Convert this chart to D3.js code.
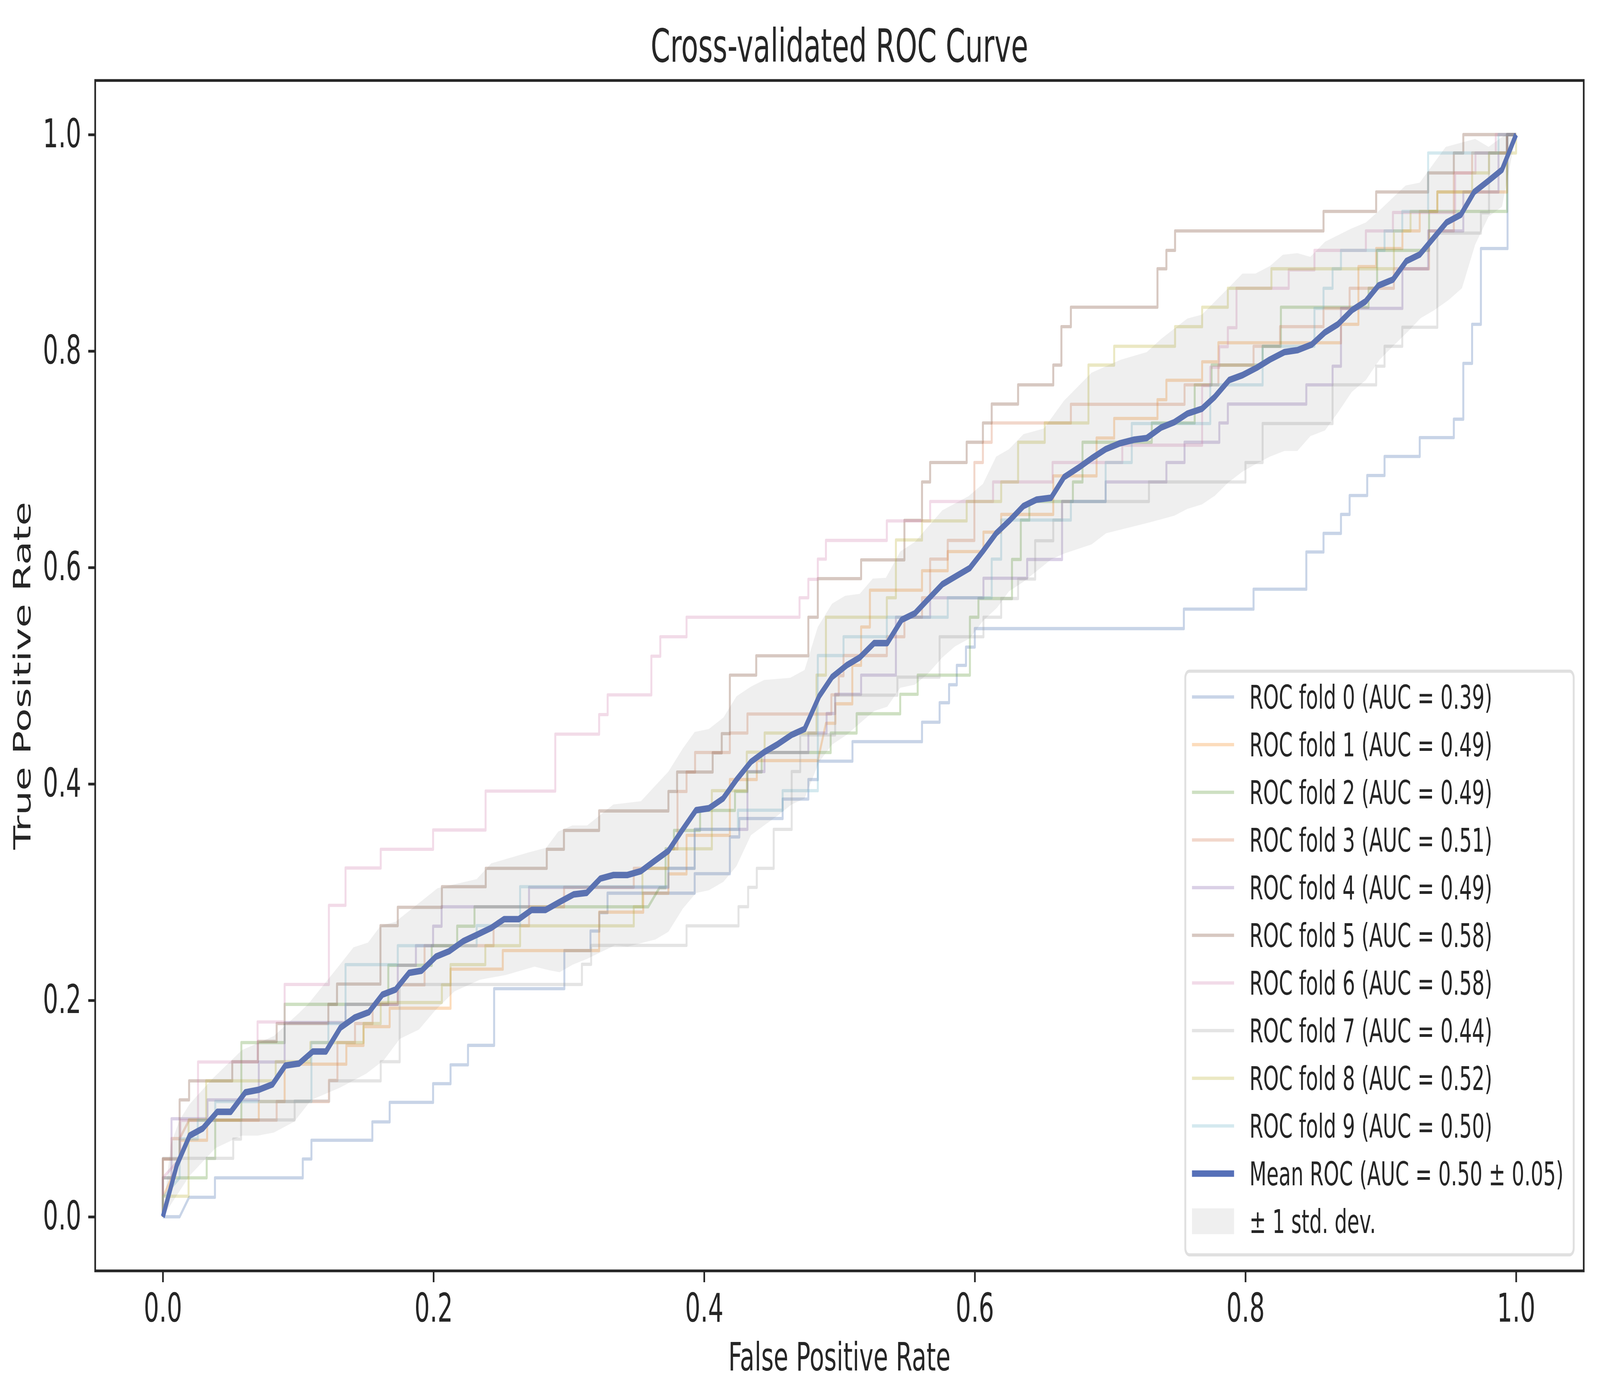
<!DOCTYPE html>
<html>
<head>
<meta charset="utf-8">
<script src="https://cdn.jsdelivr.net/npm/d3@7"></script>
<style>
  html, body { margin: 0; padding: 0; background: #ffffff; overflow: hidden; }
  #chart svg { display: block; width: 100vw; height: 100vh; }
  text { font-family: 'DejaVu Sans', sans-serif; fill: #262626; }
</style>
</head>
<body>
<div id="chart"></div>
<script>
// ROC curve of every fold, [false positive rate, true positive rate]
const fold0 = [[0,0],[0.0124,0],[0.0194,0.018],[0.0385,0.018],[0.0385,0.036],[0.1034,0.036],[0.1034,0.0534],[0.1098,0.0534],[0.1098,0.0707],[0.1548,0.0707],[0.1548,0.0877],[0.1676,0.0877],[0.1676,0.1057],[0.1997,0.1057],[0.1997,0.123],[0.2126,0.123],[0.2126,0.1404],[0.2255,0.1404],[0.2255,0.1584],[0.2448,0.1584],[0.2448,0.2108],[0.2967,0.2108],[0.2967,0.246],[0.316,0.246],[0.316,0.264],[0.3226,0.264],[0.3226,0.281],[0.3286,0.281],[0.3286,0.299],[0.393,0.299],[0.393,0.317],[0.419,0.317],[0.419,0.351],[0.426,0.351],[0.426,0.368],[0.458,0.368],[0.458,0.386],[0.477,0.386],[0.477,0.404],[0.484,0.404],[0.484,0.421],[0.5096,0.421],[0.5096,0.439],[0.561,0.439],[0.561,0.457],[0.574,0.457],[0.574,0.475],[0.581,0.475],[0.581,0.4916],[0.5867,0.4916],[0.5867,0.5095],[0.5935,0.5095],[0.5935,0.5264],[0.6,0.5264],[0.6,0.5435],[0.7545,0.5435],[0.7545,0.5615],[0.806,0.5615],[0.806,0.5799],[0.845,0.5799],[0.845,0.6143],[0.8577,0.6143],[0.8577,0.6315],[0.8706,0.6315],[0.8706,0.649],[0.877,0.649],[0.877,0.6665],[0.89,0.6665],[0.89,0.685],[0.9028,0.685],[0.9028,0.7026],[0.9288,0.7026],[0.9288,0.72],[0.954,0.72],[0.954,0.737],[0.961,0.737],[0.961,0.7886],[0.9675,0.7886],[0.9675,0.8247],[0.974,0.8247],[0.974,0.8947],[0.9937,0.8947],[0.9937,1],[1,1]];
const fold1 = [[0,0],[0,0.018],[0.0064,0.036],[0.0124,0.0536],[0.0124,0.0707],[0.0327,0.0707],[0.0327,0.0893],[0.0709,0.0893],[0.0709,0.1065],[0.09,0.1065],[0.09,0.141],[0.1356,0.141],[0.1356,0.1584],[0.1483,0.1584],[0.1483,0.1757],[0.1676,0.1757],[0.1676,0.1927],[0.2126,0.1927],[0.2126,0.2288],[0.2512,0.2288],[0.2512,0.246],[0.3224,0.246],[0.3224,0.2815],[0.355,0.2815],[0.355,0.299],[0.3736,0.299],[0.3736,0.3168],[0.387,0.3168],[0.387,0.3525],[0.419,0.3525],[0.419,0.404],[0.4389,0.404],[0.4389,0.4215],[0.484,0.4215],[0.49,0.456],[0.497,0.456],[0.497,0.474],[0.5095,0.474],[0.5095,0.5096],[0.516,0.5096],[0.516,0.545],[0.5225,0.545],[0.5225,0.579],[0.561,0.579],[0.561,0.597],[0.58,0.597],[0.58,0.6147],[0.6064,0.6147],[0.6064,0.6326],[0.6195,0.6326],[0.6195,0.649],[0.658,0.649],[0.658,0.6846],[0.69,0.6846],[0.69,0.7196],[0.703,0.7196],[0.703,0.7377],[0.735,0.7377],[0.735,0.755],[0.7416,0.755],[0.7416,0.773],[0.768,0.773],[0.768,0.79],[0.78,0.79],[0.78,0.8076],[0.8706,0.8076],[0.8706,0.8247],[0.8835,0.8247],[0.8835,0.878],[0.8966,0.878],[0.8966,0.8947],[0.916,0.8947],[0.916,0.911],[0.9288,0.911],[0.9288,0.929],[0.9418,0.929],[0.9418,0.947],[0.9933,0.947],[0.9933,1],[1,1]];
const fold2 = [[0,0],[0,0.036],[0.0324,0.036],[0.0324,0.0539],[0.0387,0.0539],[0.0387,0.0893],[0.058,0.0893],[0.058,0.161],[0.09,0.161],[0.09,0.1963],[0.1666,0.1963],[0.1666,0.2324],[0.1987,0.2324],[0.1987,0.2505],[0.2175,0.2505],[0.2175,0.2685],[0.2303,0.2685],[0.2303,0.2864],[0.3587,0.2864],[0.367,0.304],[0.3715,0.304],[0.3715,0.34],[0.3777,0.34],[0.3777,0.357],[0.397,0.357],[0.397,0.3755],[0.4228,0.3755],[0.4228,0.393],[0.432,0.393],[0.432,0.411],[0.4425,0.411],[0.4425,0.429],[0.4935,0.429],[0.4935,0.447],[0.5127,0.447],[0.5127,0.4648],[0.5449,0.4648],[0.5449,0.4828],[0.5578,0.4828],[0.5578,0.5005],[0.5964,0.5005],[0.5964,0.554],[0.6027,0.554],[0.6027,0.5713],[0.6275,0.5713],[0.6275,0.6074],[0.634,0.6074],[0.634,0.6438],[0.6403,0.6438],[0.6403,0.661],[0.6725,0.661],[0.6725,0.679],[0.6796,0.679],[0.6796,0.7157],[0.7308,0.7157],[0.7308,0.7335],[0.7625,0.7335],[0.7625,0.7687],[0.775,0.7687],[0.775,0.787],[0.8127,0.787],[0.8127,0.8044],[0.8262,0.8044],[0.8262,0.8405],[0.891,0.8405],[0.891,0.858],[0.8973,0.858],[0.8973,0.893],[0.9357,0.893],[0.9357,0.929],[0.9933,0.929],[0.9933,1],[1,1]];
const fold3 = [[0,0],[0,0.0534],[0.0064,0.0534],[0.0064,0.0722],[0.0124,0.0722],[0.0194,0.0893],[0.0841,0.0893],[0.0841,0.1065],[0.1227,0.1065],[0.1227,0.126],[0.129,0.126],[0.129,0.161],[0.142,0.161],[0.142,0.1786],[0.155,0.1786],[0.155,0.1963],[0.1736,0.1963],[0.1736,0.2143],[0.1934,0.2143],[0.1934,0.2505],[0.2444,0.2505],[0.2444,0.269],[0.2706,0.269],[0.2706,0.2864],[0.2965,0.2864],[0.2965,0.3045],[0.348,0.3045],[0.348,0.322],[0.3736,0.322],[0.3736,0.34],[0.3803,0.34],[0.3803,0.393],[0.387,0.393],[0.387,0.411],[0.3933,0.411],[0.3933,0.429],[0.419,0.429],[0.419,0.447],[0.432,0.447],[0.432,0.4646],[0.494,0.4646],[0.494,0.4823],[0.4995,0.4823],[0.4995,0.5],[0.503,0.5],[0.503,0.5186],[0.535,0.5186],[0.535,0.536],[0.548,0.536],[0.548,0.554],[0.561,0.554],[0.561,0.572],[0.567,0.572],[0.567,0.6077],[0.58,0.6077],[0.58,0.625],[0.5997,0.625],[0.5997,0.697],[0.606,0.697],[0.606,0.7157],[0.6125,0.7157],[0.6125,0.7335],[0.671,0.7335],[0.671,0.7508],[0.755,0.7508],[0.755,0.7687],[0.78,0.7687],[0.78,0.787],[0.806,0.787],[0.806,0.8044],[0.8256,0.8044],[0.8256,0.8225],[0.8577,0.8225],[0.8577,0.8394],[0.877,0.8394],[0.877,0.858],[0.9097,0.858],[0.9097,0.876],[0.9357,0.876],[0.9357,0.911],[0.954,0.911],[0.954,0.9646],[0.9675,0.9646],[0.9675,0.983],[0.9933,0.983],[0.9933,1],[1,1]];
const fold4 = [[0,0],[0,0.036],[0.0064,0.036],[0.0064,0.0906],[0.033,0.0906],[0.033,0.108],[0.0709,0.108],[0.0709,0.143],[0.09,0.143],[0.09,0.1795],[0.135,0.1795],[0.135,0.1963],[0.1736,0.1963],[0.1736,0.2324],[0.187,0.2324],[0.187,0.2505],[0.1997,0.2505],[0.1997,0.2685],[0.206,0.2685],[0.206,0.2864],[0.2706,0.2864],[0.2706,0.3044],[0.3736,0.3044],[0.3736,0.322],[0.393,0.322],[0.393,0.358],[0.432,0.358],[0.432,0.4114],[0.4446,0.4114],[0.4446,0.429],[0.477,0.429],[0.477,0.447],[0.4905,0.447],[0.4905,0.465],[0.4968,0.465],[0.4968,0.4828],[0.516,0.4828],[0.516,0.5005],[0.5417,0.5005],[0.5417,0.554],[0.567,0.554],[0.567,0.572],[0.6064,0.572],[0.6064,0.59],[0.6387,0.59],[0.6387,0.6074],[0.6645,0.6074],[0.6645,0.661],[0.6967,0.661],[0.6967,0.679],[0.7416,0.679],[0.7416,0.697],[0.755,0.697],[0.755,0.7157],[0.7807,0.7157],[0.7807,0.7335],[0.787,0.7335],[0.787,0.751],[0.845,0.751],[0.845,0.7687],[0.8644,0.7687],[0.8644,0.786],[0.8706,0.786],[0.8706,0.8394],[0.916,0.8394],[0.916,0.876],[0.935,0.876],[0.935,0.911],[0.961,0.911],[0.961,0.947],[0.987,0.947],[0.987,0.983],[0.9933,0.983],[0.9933,1],[1,1]];
const fold5 = [[0,0],[0,0.0534],[0.0124,0.0534],[0.0124,0.108],[0.0194,0.108],[0.0194,0.1256],[0.0513,0.1256],[0.0513,0.1433],[0.0703,0.1433],[0.0703,0.162],[0.0841,0.162],[0.0841,0.1786],[0.1223,0.1786],[0.1223,0.1963],[0.1287,0.1963],[0.1287,0.215],[0.1608,0.215],[0.1608,0.269],[0.1736,0.269],[0.1736,0.286],[0.2062,0.286],[0.2062,0.305],[0.2386,0.305],[0.2386,0.322],[0.2837,0.322],[0.2837,0.3396],[0.2964,0.3396],[0.2964,0.357],[0.3224,0.357],[0.3224,0.375],[0.3736,0.375],[0.3736,0.393],[0.38,0.393],[0.38,0.411],[0.4063,0.411],[0.4063,0.4287],[0.413,0.4287],[0.413,0.4464],[0.419,0.4464],[0.419,0.5005],[0.4385,0.5005],[0.4385,0.5184],[0.477,0.5184],[0.477,0.554],[0.484,0.554],[0.484,0.5897],[0.516,0.5897],[0.516,0.607],[0.548,0.607],[0.548,0.6435],[0.561,0.6435],[0.561,0.679],[0.567,0.679],[0.567,0.697],[0.594,0.697],[0.594,0.7157],[0.606,0.7157],[0.606,0.7335],[0.6125,0.7335],[0.6125,0.751],[0.632,0.751],[0.632,0.7687],[0.658,0.7687],[0.658,0.787],[0.664,0.787],[0.664,0.8225],[0.671,0.8225],[0.671,0.8405],[0.735,0.8405],[0.735,0.876],[0.7416,0.876],[0.7416,0.893],[0.748,0.893],[0.748,0.911],[0.8577,0.911],[0.8577,0.929],[0.8966,0.929],[0.8966,0.947],[0.935,0.947],[0.935,0.9646],[0.954,0.9646],[0.954,0.983],[0.961,0.983],[0.961,1],[1,1]];
const fold6 = [[0,0],[0,0.036],[0.013,0.054],[0.013,0.089],[0.026,0.089],[0.026,0.143],[0.07,0.143],[0.07,0.18],[0.09,0.18],[0.09,0.2147],[0.1227,0.2147],[0.1227,0.2878],[0.135,0.2878],[0.135,0.3223],[0.161,0.3223],[0.161,0.3396],[0.1997,0.3396],[0.1997,0.3574],[0.2385,0.3574],[0.2385,0.3934],[0.29,0.3934],[0.29,0.446],[0.3224,0.446],[0.3224,0.464],[0.3287,0.464],[0.3287,0.4823],[0.361,0.4823],[0.361,0.518],[0.3676,0.518],[0.3676,0.536],[0.387,0.536],[0.387,0.554],[0.4705,0.554],[0.4705,0.572],[0.477,0.572],[0.477,0.589],[0.484,0.589],[0.484,0.6077],[0.49,0.6077],[0.49,0.625],[0.535,0.625],[0.535,0.643],[0.567,0.643],[0.567,0.661],[0.6135,0.661],[0.6135,0.679],[0.6575,0.679],[0.6575,0.697],[0.709,0.697],[0.709,0.713],[0.768,0.713],[0.768,0.768],[0.774,0.768],[0.774,0.785],[0.7807,0.785],[0.7807,0.804],[0.787,0.804],[0.787,0.8215],[0.7934,0.8215],[0.7934,0.858],[0.832,0.858],[0.832,0.875],[0.851,0.875],[0.851,0.893],[0.889,0.893],[0.889,0.911],[0.909,0.911],[0.909,0.928],[0.955,0.928],[0.955,0.9646],[0.97,0.9646],[0.97,0.983],[0.985,0.983],[0.985,1],[1,1]];
const fold7 = [[0,0],[0,0.054],[0.052,0.054],[0.052,0.0718],[0.0578,0.0718],[0.0578,0.0895],[0.0974,0.0895],[0.0974,0.107],[0.123,0.107],[0.123,0.1256],[0.161,0.1256],[0.161,0.1433],[0.175,0.1433],[0.175,0.2147],[0.3097,0.2147],[0.3097,0.2333],[0.3165,0.2333],[0.3165,0.2508],[0.387,0.2508],[0.387,0.2688],[0.4254,0.2688],[0.4254,0.2865],[0.4325,0.2865],[0.4325,0.3044],[0.4389,0.3044],[0.4389,0.322],[0.4514,0.322],[0.4514,0.358],[0.4647,0.358],[0.4647,0.4114],[0.471,0.4114],[0.471,0.4453],[0.4968,0.4453],[0.4968,0.482],[0.5428,0.482],[0.5428,0.4987],[0.574,0.4987],[0.574,0.536],[0.6064,0.536],[0.6064,0.554],[0.6195,0.554],[0.6195,0.5713],[0.632,0.5713],[0.632,0.5893],[0.6446,0.5893],[0.6446,0.6247],[0.658,0.6247],[0.658,0.6438],[0.6645,0.6438],[0.6645,0.661],[0.7287,0.661],[0.7287,0.679],[0.8,0.679],[0.8,0.697],[0.8127,0.697],[0.8127,0.733],[0.8644,0.733],[0.8644,0.7687],[0.8966,0.7687],[0.8966,0.786],[0.9028,0.786],[0.9028,0.8044],[0.9159,0.8044],[0.9159,0.822],[0.9418,0.822],[0.9418,0.909],[0.974,0.909],[0.974,0.9278],[0.98,0.9278],[0.98,0.983],[0.993,0.983],[0.993,1],[1,1]];
const fold8 = [[0,0],[0,0.019],[0.019,0.019],[0.019,0.0895],[0.032,0.0895],[0.032,0.1256],[0.0834,0.1256],[0.0834,0.1433],[0.109,0.1433],[0.109,0.161],[0.1483,0.161],[0.1483,0.1786],[0.161,0.1786],[0.161,0.198],[0.2062,0.198],[0.2062,0.2143],[0.2126,0.2143],[0.2126,0.233],[0.2383,0.233],[0.2383,0.2505],[0.264,0.2505],[0.264,0.2688],[0.348,0.2688],[0.348,0.2865],[0.3544,0.2865],[0.3544,0.322],[0.3736,0.322],[0.3736,0.34],[0.4057,0.34],[0.4057,0.3937],[0.4315,0.3937],[0.4315,0.4293],[0.4447,0.4293],[0.4447,0.447],[0.483,0.447],[0.483,0.5005],[0.49,0.5005],[0.49,0.554],[0.535,0.554],[0.535,0.572],[0.5417,0.572],[0.5417,0.6254],[0.561,0.6254],[0.561,0.643],[0.594,0.643],[0.594,0.661],[0.6195,0.661],[0.6195,0.679],[0.632,0.679],[0.632,0.7157],[0.6517,0.7157],[0.6517,0.7335],[0.684,0.7335],[0.684,0.787],[0.703,0.787],[0.703,0.8044],[0.748,0.8044],[0.748,0.8225],[0.768,0.8225],[0.768,0.8405],[0.787,0.8405],[0.787,0.858],[0.8192,0.858],[0.8192,0.876],[0.9097,0.876],[0.9097,0.911],[0.922,0.911],[0.922,0.929],[0.9418,0.929],[0.9418,0.947],[0.9675,0.947],[0.9675,0.9646],[0.98,0.9646],[0.98,0.983],[1,0.983],[1,1]];
const fold9 = [[0,0],[0,0.018],[0.0124,0.036],[0.0124,0.072],[0.0258,0.072],[0.0258,0.089],[0.0387,0.089],[0.0387,0.1065],[0.1098,0.1065],[0.1098,0.161],[0.1223,0.161],[0.1223,0.1786],[0.135,0.1786],[0.135,0.233],[0.1736,0.233],[0.1736,0.2505],[0.2319,0.2505],[0.2319,0.269],[0.264,0.269],[0.264,0.305],[0.3736,0.305],[0.3736,0.322],[0.393,0.322],[0.393,0.358],[0.425,0.358],[0.425,0.3757],[0.458,0.3757],[0.458,0.3937],[0.484,0.3937],[0.484,0.5186],[0.503,0.5186],[0.503,0.536],[0.535,0.536],[0.535,0.554],[0.58,0.554],[0.58,0.572],[0.6125,0.572],[0.6125,0.6077],[0.6195,0.6077],[0.6195,0.6438],[0.671,0.6438],[0.671,0.661],[0.6967,0.661],[0.6967,0.697],[0.716,0.697],[0.716,0.733],[0.774,0.733],[0.774,0.7687],[0.8127,0.7687],[0.8127,0.8044],[0.851,0.8044],[0.851,0.8394],[0.8577,0.8394],[0.8577,0.858],[0.8644,0.858],[0.8644,0.876],[0.8706,0.876],[0.8706,0.893],[0.9028,0.893],[0.9028,0.911],[0.9159,0.911],[0.9159,0.929],[0.935,0.929],[0.935,0.983],[0.987,0.983],[0.987,1],[1,1]];

const foldAuc = ["0.39", "0.49", "0.49", "0.51", "0.49", "0.58", "0.58", "0.44", "0.52", "0.50"];

// mean ROC curve
const meanFpr = [0,0.0103,0.0198,0.0295,0.0402,0.0502,0.061,0.0707,0.081,0.0905,0.1006,0.1108,0.1205,0.1312,0.1419,0.1522,0.1623,0.172,0.182,0.1912,0.2018,0.2116,0.2222,0.2319,0.2427,0.2522,0.263,0.2725,0.2828,0.2929,0.3036,0.3132,0.3233,0.333,0.3432,0.3533,0.3629,0.3736,0.3832,0.394,0.4035,0.414,0.424,0.4346,0.4443,0.4539,0.4646,0.4742,0.485,0.4945,0.5053,0.515,0.5256,0.5353,0.546,0.5557,0.5652,0.576,0.5855,0.5963,0.6059,0.6158,0.626,0.636,0.6457,0.6564,0.666,0.6767,0.6863,0.6967,0.7067,0.7174,0.7271,0.7377,0.7474,0.757,0.7678,0.7773,0.788,0.7978,0.8084,0.8181,0.8288,0.8384,0.849,0.8587,0.8683,0.879,0.8887,0.8983,0.909,0.9189,0.9288,0.9387,0.9486,0.9592,0.969,0.9797,0.9896,1];
const meanTpr = [0,0.0476,0.075,0.0816,0.097,0.097,0.115,0.1173,0.1223,0.1397,0.1416,0.1527,0.1527,0.1747,0.1842,0.189,0.2053,0.21,0.2254,0.2274,0.2404,0.2454,0.2548,0.2605,0.267,0.275,0.275,0.2835,0.2835,0.2907,0.2979,0.2993,0.3125,0.3158,0.3158,0.3194,0.3284,0.3381,0.3562,0.3757,0.3775,0.3865,0.404,0.4204,0.4293,0.4363,0.4453,0.4507,0.481,0.4987,0.5096,0.5168,0.5301,0.5301,0.5516,0.5576,0.5702,0.5844,0.5915,0.5994,0.6148,0.6316,0.6438,0.6568,0.6627,0.6644,0.6835,0.6922,0.7008,0.7093,0.7145,0.718,0.7196,0.7293,0.7342,0.7421,0.7466,0.7576,0.7732,0.7777,0.7846,0.7921,0.799,0.8008,0.806,0.8172,0.8247,0.838,0.8458,0.8605,0.866,0.8831,0.8892,0.904,0.9188,0.926,0.9469,0.9574,0.9675,1];

// +/- 1 std. dev. band
const stdUpper = [[0,0],[0.0058,0.0667],[0.0124,0.0895],[0.0197,0.104],[0.037,0.128],[0.0584,0.154],[0.082,0.167],[0.101,0.1887],[0.1077,0.197],[0.13,0.2317],[0.1409,0.249],[0.1516,0.2533],[0.161,0.269],[0.172,0.2726],[0.2029,0.3035],[0.2319,0.312],[0.2427,0.3266],[0.2704,0.3367],[0.2833,0.341],[0.2922,0.356],[0.3026,0.3616],[0.3136,0.3616],[0.3329,0.381],[0.3533,0.384],[0.3629,0.397],[0.3736,0.4114],[0.3842,0.4327],[0.393,0.448],[0.4035,0.4507],[0.4143,0.4614],[0.4239,0.481],[0.4346,0.4899],[0.4443,0.496],[0.4636,0.498],[0.4742,0.5052],[0.484,0.545],[0.4945,0.5665],[0.5042,0.5738],[0.515,0.5756],[0.5246,0.5897],[0.5343,0.5904],[0.5449,0.6147],[0.5557,0.6236],[0.576,0.6528],[0.5953,0.6658],[0.606,0.6772],[0.6158,0.7024],[0.6253,0.7093],[0.636,0.7232],[0.651,0.7283],[0.666,0.7542],[0.6863,0.78],[0.7079,0.792],[0.7271,0.799],[0.7377,0.8112],[0.757,0.83],[0.7678,0.8336],[0.787,0.8578],[0.7978,0.8716],[0.8074,0.8716],[0.8181,0.8785],[0.8277,0.889],[0.8384,0.8904],[0.848,0.887],[0.8588,0.901],[0.878,0.913],[0.889,0.9188],[0.9003,0.9314],[0.9184,0.953],[0.9288,0.9556],[0.948,0.9886],[0.9698,0.996],[0.9797,0.9886],[0.992,1],[1,1]];
const stdLower = [[0,0],[0.0198,0.038],[0.039,0.0635],[0.0584,0.075],[0.0702,0.075],[0.082,0.0778],[0.097,0.0878],[0.1098,0.108],[0.1312,0.1195],[0.1505,0.1324],[0.1633,0.1447],[0.1751,0.1644],[0.1893,0.173],[0.2011,0.1905],[0.2154,0.2082],[0.2343,0.219],[0.2533,0.2234],[0.2747,0.2311],[0.2858,0.2277],[0.2932,0.226],[0.303,0.233],[0.3136,0.2384],[0.334,0.2508],[0.3436,0.2497],[0.364,0.2562],[0.3736,0.2634],[0.3842,0.2847],[0.394,0.2992],[0.4035,0.3017],[0.4143,0.3096],[0.4239,0.324],[0.4346,0.3526],[0.4443,0.3616],[0.4539,0.3703],[0.4646,0.381],[0.4742,0.3865],[0.485,0.4204],[0.4945,0.4363],[0.5053,0.4453],[0.515,0.456],[0.5256,0.4673],[0.5353,0.4713],[0.5449,0.4888],[0.5557,0.4917],[0.5652,0.5016],[0.576,0.5168],[0.5855,0.5272],[0.5963,0.5345],[0.606,0.5505],[0.6166,0.563],[0.6253,0.578],[0.636,0.5868],[0.6564,0.6074],[0.666,0.6128],[0.6863,0.6213],[0.697,0.6316],[0.7271,0.641],[0.7377,0.6445],[0.7474,0.6478],[0.757,0.6541],[0.7678,0.6582],[0.7773,0.6662],[0.787,0.6782],[0.7978,0.6885],[0.8084,0.6961],[0.8181,0.7024],[0.8288,0.7077],[0.8384,0.7077],[0.848,0.7214],[0.8588,0.7266],[0.8687,0.7438],[0.8786,0.7622],[0.889,0.7732],[0.899,0.7918],[0.909,0.8044],[0.9196,0.8174],[0.9295,0.8304],[0.9394,0.8376],[0.95,0.847],[0.96,0.858],[0.9698,0.8985],[0.9797,0.9243],[0.9896,0.9334],[0.997,0.981],[1,1]];

const xTicks = [0, 0.2, 0.4, 0.6, 0.8, 1.0];
const yTicks = [0, 0.2, 0.4, 0.6, 0.8, 1.0];

// ---------------------------------------------------------------
// layout in the 6690 x 3540 drawing space (scaled to the window by viewBox)
const w = 6690;
const h = 3540;
const plotLeft = 398, plotRight = 6622, plotTop = 206, plotBottom = 3253;
const ink = "#262626";

const folds = [fold0, fold1, fold2, fold3, fold4, fold5, fold6, fold7, fold8, fold9];
const foldColors = ["#4a70b0", "#f58a20", "#5e9834", "#d47a52", "#8462ac",
                    "#7a4a33", "#d487b2", "#a5a5a5", "#bdb338", "#70b6ca"];
const meanColor = "#5670b8";

var xScale = d3.scaleLinear().domain([-0.05, 1.05]).range([plotLeft, plotRight]);
var yScale = d3.scaleLinear().domain([-0.05, 1.05]).range([plotBottom, plotTop]);

var svg = d3.select("#chart")
    .append("svg")
    .attr("viewBox", `0 0 ${w} ${h}`)
    .attr("preserveAspectRatio", "none");

svg.append("rect").attr("width", w).attr("height", h).attr("fill", "#ffffff");

svg.append("clipPath").attr("id", "plotArea")
    .append("rect")
    .attr("x", plotLeft).attr("y", plotTop)
    .attr("width", plotRight - plotLeft).attr("height", plotBottom - plotTop);

var plot = svg.append("g").attr("clip-path", "url(#plotArea)");

var line = d3.line()
    .x(d => xScale(d[0]))
    .y(d => yScale(d[1]));

// fold curves
plot.selectAll(".fold")
    .data(folds)
    .enter()
    .append("path")
    .attr("class", "fold")
    .attr("d", line)
    .attr("fill", "none")
    .attr("stroke", (d, i) => foldColors[i])
    .attr("stroke-opacity", 0.3)
    .attr("stroke-width", 8.3)
    .attr("stroke-linejoin", "round");

// mean curve
var meanPoints = meanFpr.map((f, i) => [f, meanTpr[i]]);
plot.append("path")
    .datum(meanPoints)
    .attr("d", line)
    .attr("fill", "none")
    .attr("stroke", meanColor)
    .attr("stroke-width", 16.7)
    .attr("stroke-linejoin", "round");

// std band, drawn on top like matplotlib does
var bandPoints = stdUpper.concat(stdLower.slice().reverse());
plot.append("path")
    .datum(bandPoints)
    .attr("d", d => line(d) + "Z")
    .attr("fill", "#808080")
    .attr("fill-opacity", 0.126)
    .attr("stroke", "none");

// axes
var xAxis = svg.append("g")
    .attr("transform", `translate(0,${plotBottom})`)
    .call(d3.axisBottom(xScale).tickValues(xTicks).tickFormat(d3.format(".1f"))
        .tickSize(29).tickPadding(29));
var yAxis = svg.append("g")
    .attr("transform", `translate(${plotLeft},0)`)
    .call(d3.axisLeft(yScale).tickValues(yTicks).tickFormat(d3.format(".1f"))
        .tickSize(29).tickPadding(29));

[xAxis, yAxis].forEach(a => {
    a.select(".domain").remove();
    a.selectAll(".tick line").attr("stroke", ink).attr("stroke-width", 7);
    a.selectAll(".tick text")
        .attr("font-size", 101)
        .attr("font-family", "'DejaVu Sans', sans-serif")
        .attr("fill", ink);
});

// spines
svg.append("rect")
    .attr("x", plotLeft).attr("y", plotTop)
    .attr("width", plotRight - plotLeft).attr("height", plotBottom - plotTop)
    .attr("fill", "none")
    .attr("stroke", ink)
    .attr("stroke-width", 7);

// title and axis labels
svg.append("text")
    .attr("x", (plotLeft + plotRight) / 2)
    .attr("y", 158)
    .attr("text-anchor", "middle")
    .attr("font-size", 117)
    .text("Cross-validated ROC Curve");

svg.append("text")
    .attr("x", (plotLeft + plotRight) / 2)
    .attr("y", 3508)
    .attr("text-anchor", "middle")
    .attr("font-size", 100)
    .text("False Positive Rate");

svg.append("text")
    .attr("transform", `translate(127,${(plotTop + plotBottom) / 2}) rotate(-90)`)
    .attr("text-anchor", "middle")
    .attr("font-size", 100)
    .text("True Positive Rate");

// legend
var legend = svg.append("g");
legend.append("rect")
    .attr("x", 4956).attr("y", 1718)
    .attr("width", 6580 - 4956).attr("height", 3212 - 1718)
    .attr("rx", 17).attr("ry", 17)
    .attr("fill", "#ffffff").attr("fill-opacity", 0.8)
    .attr("stroke", "#e0e0e0").attr("stroke-width", 8);

const rowY0 = 1784, rowStep = 122;
const handleX1 = 4984, handleX2 = 5160, labelX = 5224;

var entries = foldAuc.map((auc, i) => ({
    label: `ROC fold ${i} (AUC = ${auc})`, kind: "fold", color: foldColors[i]
}));
entries.push({ label: "Mean ROC (AUC = 0.50 \u00b1 0.05)", kind: "mean", color: meanColor });
entries.push({ label: "\u00b1 1 std. dev.", kind: "band", color: "#808080" });

var rows = legend.selectAll(".entry")
    .data(entries)
    .enter()
    .append("g")
    .attr("class", "entry")
    .attr("transform", (d, i) => `translate(0,${rowY0 + i * rowStep})`);

rows.each(function (d) {
    var g = d3.select(this);
    if (d.kind === "band") {
        g.append("rect")
            .attr("x", handleX1).attr("y", -33)
            .attr("width", handleX2 - handleX1).attr("height", 66)
            .attr("fill", d.color).attr("fill-opacity", 0.126);
    } else {
        g.append("line")
            .attr("x1", handleX1).attr("x2", handleX2)
            .attr("y1", 0).attr("y2", 0)
            .attr("stroke", d.color)
            .attr("stroke-opacity", d.kind === "fold" ? 0.3 : 1)
            .attr("stroke-width", d.kind === "fold" ? 8.3 : 16.7);
    }
    g.append("text")
        .attr("x", labelX)
        .attr("y", 30)
        .attr("font-size", 83)
        .text(d.label);
});
</script>
</body>
</html>
